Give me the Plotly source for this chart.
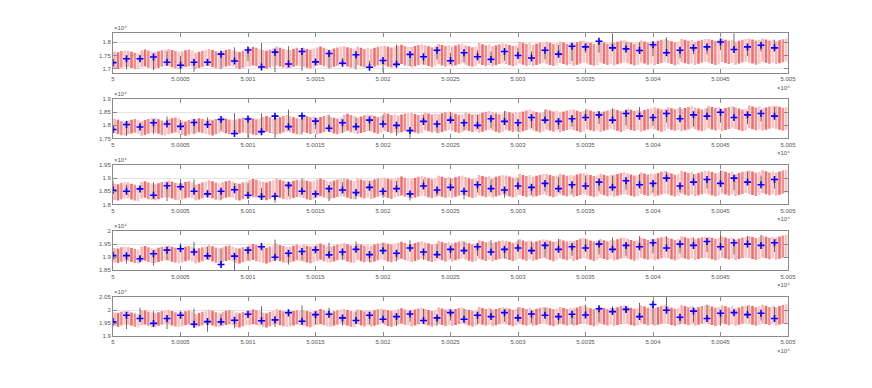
import plotly.graph_objects as go

# ---------------- data ----------------
blue_x = list(range(50000, 50050))
bar_x = [50000 + u + f for u in range(50) for f in (0.12, 0.37, 0.62, 0.87)]

x_tick_vals = [50000, 50005, 50010, 50015, 50020, 50025, 50030, 50035, 50040, 50045, 50050]
x_tick_text = ["5", "5.0005", "5.001", "5.0015", "5.002", "5.0025", "5.003", "5.0035", "5.004", "5.0045", "5.005"]

# panel 1
lo1 = [17000,16980,17030,17060, 17060,17020,16980,16960, 17050,17080,17030,17000, 16990,17030,17070,17100, 17090,17050,17010,16990,
       17020,17060,17090,17050, 16980,17020,17060,17100, 17100,17060,17010,16990, 17040,17080,17110,17070, 17010,16980,17030,17070,
       17080,17120,17090,17050, 17020,16990,17040,17080, 17120,17080,17040,17010, 17030,17070,17110,17080, 17070,17030,17000,17040,
       17100,17140,17090,17050, 17030,17070,17110,17140, 17120,17080,17040,17020, 17130,17090,17050,17090, 17040,17080,17120,17150,
       17110,17070,17040,17080, 17130,17170,17120,17090, 17050,17090,17130,17160, 17140,17100,17060,17100, 17160,17120,17080,17120,
       17080,17120,17160,17190, 17150,17110,17070,17100, 17180,17140,17100,17140, 17090,17130,17170,17200, 17170,17130,17090,17120,
       17190,17150,17110,17150, 17100,17140,17180,17210, 17180,17140,17100,17130, 17210,17170,17130,17170, 17110,17150,17190,17220,
       17190,17150,17110,17140, 17220,17180,17140,17180, 17120,17160,17200,17230, 17200,17160,17120,17150, 17230,17190,17150,17190,
       17130,17170,17210,17240, 17210,17170,17130,17160, 17240,17200,17160,17200, 17140,17180,17220,17250, 17220,17180,17140,17170,
       17250,17210,17170,17210, 17150,17190,17230,17260, 17230,17190,17150,17180, 17260,17220,17180,17220, 17160,17200,17240,17270]
span1 = [640,620,650,630,660,640,620,650,630,650, 700,690,710,680,720,700,690,730,700,710,
         760,740,770,750,780,760,740,790,760,770, 830,810,840,820,850,830,810,860,830,840,
         890,870,900,880,910,890,870,920,890,880]
blue1 = [17225,17375,17375,17440,17240,17125,17240,17240,17550,17290,17710,17060,17625,17175,17650,17255,17575,17200,17525,17050,
         17310,17160,17540,17450,17700,17300,17600,17450,17350,17650,17500,17400,17700,17550,17850,17825,18040,17790,17750,17690,
         17910,17600,17700,17790,17825,18010,17725,17825,17890,17790]
tip1 = [17225,16975,17300,16940,17660,17475,16875,17150,16975,17810,17290,17975,16850,17850,16910,17150,17000,17400,16965,17300,
        16850,17910,17100,17150,17350,17600,17250,17700,17650,17300,17800,17650,17350,17900,17290,17600,17600,18350,18000,18000,
        17475,18190,17390,17550,17550,17700,18350,17480,17650,18100]

# panel 2
lo2 = [17710,17670,17620,17600, 17650,17690,17720,17680, 17600,17640,17680,17720, 17720,17680,17630,17610, 17660,17700,17730,17690,
       17630,17600,17650,17690, 17700,17740,17710,17670, 17640,17610,17660,17700, 17740,17700,17660,17630, 17650,17690,17730,17700,
       17690,17650,17620,17660, 17720,17760,17710,17670, 17650,17690,17730,17760, 17740,17700,17660,17640, 17750,17710,17670,17710,
       17660,17700,17740,17770, 17730,17690,17660,17700, 17750,17790,17740,17710, 17670,17710,17750,17780, 17760,17720,17680,17720,
       17790,17750,17700,17740, 17700,17740,17780,17810, 17770,17730,17690,17720, 17810,17770,17730,17770, 17710,17750,17790,17820,
       17790,17750,17710,17740, 17820,17780,17740,17780, 17720,17760,17800,17830, 17800,17760,17720,17750, 17830,17790,17750,17790,
       17730,17770,17810,17840, 17810,17770,17730,17760, 17840,17800,17760,17800, 17740,17780,17820,17850, 17820,17780,17740,17770,
       17850,17810,17770,17810, 17750,17790,17830,17860, 17830,17790,17750,17780, 17860,17820,17780,17820, 17760,17800,17840,17870,
       17840,17800,17760,17790, 17870,17830,17790,17830, 17770,17810,17850,17880, 17850,17810,17770,17800, 17880,17840,17800,17840,
       17780,17820,17860,17890, 17860,17820,17780,17810, 17890,17850,17810,17850, 17790,17830,17870,17900, 17870,17830,17790,17820]
span2 = [540,520,560,550,570,550,530,580,560,570, 610,600,630,610,640,620,600,650,630,640,
         690,670,700,680,710,690,670,720,700,710, 760,740,770,750,780,760,740,790,770,780,
         840,820,850,830,860,840,820,870,850,880]
blue2 = [17840,18030,17935,18100,18050,17960,18110,18030,18220,17690,18240,17760,18350,17950,18360,18160,17890,18100,17950,18200,
         18050,18000,17800,18150,18050,18200,18100,18000,18250,18150,18100,18300,18200,18150,18250,18300,18400,18200,18450,18350,
         18300,18450,18250,18400,18350,18500,18300,18400,18450,18350]
tip2 = [17840,17600,18100,17660,18340,18200,17660,18300,17800,18460,17500,18460,17500,18600,17660,17860,18400,17700,18300,17800,
        18400,17600,17500,18400,17700,18500,17800,18400,17900,18550,17750,17900,18600,17850,17950,18600,18050,18650,18000,18700,
        18000,18100,18700,17950,18650,18100,18700,18050,18150,18700]

# panel 3
lo3 = [18170,18150,18200,18230, 18230,18190,18150,18130, 18220,18250,18200,18170, 18160,18200,18240,18270, 18260,18220,18180,18160,
       18190,18230,18260,18220, 18150,18190,18230,18270, 18270,18230,18180,18160, 18210,18250,18280,18240, 18180,18150,18200,18240,
       18250,18290,18260,18220, 18190,18160,18210,18250, 18290,18250,18210,18180, 18200,18240,18280,18250, 18240,18200,18170,18210,
       18270,18310,18260,18220, 18200,18240,18280,18310, 18290,18250,18210,18190, 18300,18260,18220,18260, 18210,18250,18290,18320,
       18280,18240,18210,18250, 18300,18340,18290,18260, 18220,18260,18300,18330, 18310,18270,18230,18270, 18330,18290,18250,18290,
       18250,18290,18330,18360, 18320,18280,18240,18270, 18350,18310,18270,18310, 18260,18300,18340,18370, 18340,18300,18260,18290,
       18360,18320,18280,18320, 18270,18310,18350,18380, 18350,18310,18270,18300, 18380,18340,18300,18340, 18280,18320,18360,18390,
       18360,18320,18280,18310, 18390,18350,18310,18350, 18290,18330,18370,18400, 18370,18330,18290,18320, 18400,18360,18320,18360,
       18300,18340,18380,18410, 18380,18340,18300,18330, 18410,18370,18330,18370, 18310,18350,18390,18420, 18390,18350,18310,18340,
       18420,18380,18340,18380, 18320,18360,18400,18430, 18400,18360,18320,18350, 18430,18390,18350,18390, 18330,18370,18410,18440]
span3 = [620,600,630,610,640,620,600,650,630,640, 680,670,690,660,700,680,670,710,690,700,
         740,720,750,730,760,740,720,770,750,760, 800,780,810,790,820,800,780,830,810,820,
         860,840,870,850,880,860,840,890,870,880]
blue3 = [18540,18500,18590,18350,18710,18675,18500,18400,18500,18560,18350,18300,18310,18725,18500,18400,18600,18550,18450,18650,
         18500,18600,18400,18700,18550,18650,18500,18750,18600,18550,18700,18650,18800,18600,18750,18700,18850,18650,18900,18750,
         18800,19000,18700,18850,18950,18800,19000,18850,18750,18950]
tip3 = [18875,18750,18650,18840,18125,18960,18950,18550,18160,18810,18810,18625,18060,18310,19000,18500,18125,18850,18200,18900,
        18250,18900,18150,18950,18300,19000,18200,18450,18950,18250,19000,18350,18500,19050,18400,19100,18500,19100,18550,19150,
        18450,19250,18450,19150,18600,19300,18550,19250,19100,18600]

# panel 4
lo4 = [18800,18780,18830,18860, 18860,18820,18780,18760, 18840,18870,18820,18790, 18780,18820,18860,18890, 18870,18830,18790,18770,
       18810,18850,18880,18840, 18770,18810,18850,18890, 18880,18840,18790,18770, 18820,18860,18890,18850, 18790,18760,18810,18850,
       18850,18890,18860,18820, 18790,18760,18810,18850, 18890,18850,18810,18780, 18800,18840,18880,18850, 18840,18800,18770,18810,
       18860,18900,18850,18810, 18800,18840,18880,18910, 18880,18840,18800,18780, 18890,18850,18810,18850, 18800,18840,18880,18910,
       18880,18840,18810,18850, 18900,18940,18890,18860, 18820,18860,18900,18930, 18900,18860,18820,18860, 18920,18880,18840,18880,
       18840,18880,18920,18950, 18910,18870,18830,18860, 18940,18900,18860,18900, 18850,18890,18930,18960, 18930,18890,18850,18880,
       18950,18910,18870,18910, 18860,18900,18940,18970, 18930,18890,18850,18880, 18960,18920,18880,18920, 18860,18900,18940,18970,
       18940,18900,18860,18890, 18970,18930,18890,18930, 18870,18910,18950,18980, 18950,18910,18870,18900, 18980,18940,18900,18940,
       18880,18920,18960,18990, 18960,18920,18880,18910, 18990,18950,18910,18950, 18890,18930,18970,19000, 18960,18920,18880,18910,
       18990,18950,18910,18950, 18890,18930,18970,19000, 18970,18930,18890,18920, 19000,18960,18920,18960, 18900,18940,18980,19010]
span4 = [550,530,560,540,570,550,530,580,560,570, 610,600,620,600,640,620,600,650,630,640,
         670,650,680,660,700,680,660,710,690,700, 730,710,740,720,760,740,720,770,750,760,
         800,780,810,790,820,800,780,840,820,850]
blue4 = [19060,19060,18940,19130,19270,19320,19200,19050,18720,19040,19270,19400,19000,19150,19220,19280,19090,19200,19300,19100,
         19250,19150,19350,19200,19100,19300,19250,19400,19200,19300,19350,19250,19450,19300,19400,19350,19500,19300,19450,19400,
         19550,19350,19500,19450,19600,19400,19550,19500,19450,19550]
tip4 = [19250,18760,19050,18680,18880,19530,19590,19400,19330,18460,18880,19550,19670,18720,18880,19400,19550,18900,19600,18800,
        19550,18850,19650,18900,19500,18950,19600,19050,19650,18950,19650,19600,19000,19700,19050,19700,19100,19750,19050,19800,
        19150,19800,19150,19750,19200,19850,19100,19800,19850,19200]

# panel 5
lo5 = [19380,19360,19410,19440, 19440,19400,19360,19340, 19420,19450,19400,19370, 19360,19400,19440,19470, 19450,19410,19370,19350,
       19380,19420,19450,19410, 19340,19380,19420,19460, 19450,19410,19360,19340, 19390,19430,19460,19420, 19360,19330,19380,19420,
       19420,19460,19430,19390, 19360,19330,19380,19420, 19460,19420,19380,19350, 19370,19410,19450,19420, 19410,19370,19340,19380,
       19430,19470,19420,19380, 19360,19400,19440,19470, 19440,19400,19360,19340, 19450,19410,19370,19410, 19360,19400,19440,19470,
       19430,19390,19360,19400, 19450,19490,19440,19410, 19370,19410,19450,19480, 19450,19410,19370,19410, 19470,19430,19390,19430,
       19390,19430,19470,19500, 19450,19410,19370,19400, 19480,19440,19400,19440, 19380,19420,19460,19490, 19460,19420,19380,19410,
       19480,19440,19400,19440, 19390,19430,19470,19500, 19460,19420,19380,19410, 19490,19450,19410,19450, 19390,19430,19470,19500,
       19460,19420,19380,19410, 19490,19450,19410,19450, 19390,19430,19470,19500, 19470,19430,19390,19420, 19500,19460,19420,19460,
       19400,19440,19480,19510, 19470,19430,19390,19420, 19500,19460,19420,19460, 19400,19440,19480,19510, 19470,19430,19390,19420,
       19500,19460,19420,19460, 19400,19440,19480,19510, 19480,19440,19400,19430, 19510,19470,19430,19470, 19410,19450,19490,19520]
span5 = [525,510,540,520,550,530,510,560,540,550, 560,550,570,550,590,570,550,600,580,590,
         600,580,610,590,630,610,590,640,620,630, 640,620,650,630,670,650,630,680,660,670,
         680,660,690,670,700,680,660,710,690,700]
blue5 = [19550,19800,19675,19490,19675,19800,19460,19560,19550,19610,19840,19590,19625,19900,19575,19825,19840,19700,19600,19800,
         19650,19750,19850,19600,19700,19900,19650,19800,19750,19900,19700,19850,19800,19750,19840,19810,20050,19940,20025,19750,
         20210,19990,19725,19960,19675,19875,19900,19825,19875,19675]
tip5 = [19700,19275,20090,19960,19275,19950,20050,19175,19840,19300,19700,20150,19350,19750,20175,19450,20090,19400,19950,19450,
        20000,19400,19550,20050,19400,19600,20050,19450,20050,19550,20100,19500,20100,19450,19460,20200,19525,20150,19900,20275,
        19460,20500,19460,19525,20210,19400,20000,20150,19600,20125]

y_ranges = [[16850, 18350], [17500, 19000], [18000, 19500], [18500, 20000], [19000, 20500]]
y_tick_vals = [[17000, 17500, 18000], [17500, 18000, 18500, 19000], [18000, 18500, 19000, 19500],
               [18500, 19000, 19500, 20000], [19000, 19500, 20000, 20500]]
y_tick_text = [["1.7", "1.75", "1.8"], ["1.75", "1.8", "1.85", "1.9"], ["1.8", "1.85", "1.9", "1.95"],
               ["1.85", "1.9", "1.95", "2"], ["1.9", "1.95", "2", "2.05"]]

panels = [(lo1, span1, blue1, tip1), (lo2, span2, blue2, tip2), (lo3, span3, blue3, tip3),
          (lo4, span4, blue4, tip4), (lo5, span5, blue5, tip5)]

# ---------------- style / geometry ----------------
# the page body has an 8px margin, so the figure is placed at (8, 8)
OFF = 8
W, H = 872 - OFF, 388 - OFF
PL, PR = 113 - OFF, 788 - OFF
tops = [30.5 - OFF, 97.5 - OFF, 164.5 - OFF, 231.5 - OFF, 298.5 - OFF]
PH = 40
bar_palette = ['#f8b0b0', '#f26a6a', '#f58c8c', '#fbc6c6']
bar_colors = [bar_palette[i % 4] for i in range(len(bar_x))]
axis_col = '#8a8a8a'
txt_col = '#555555'
FONT = 'Liberation Sans, Arial, sans-serif'

fig = go.Figure()
annotations = []
for i, (lo, span, blue, tip) in enumerate(panels):
    n = i + 1
    xa = 'x' if n == 1 else f'x{n}'
    ya = 'y' if n == 1 else f'y{n}'
    heights = [s for s in span for _ in range(4)]
    fig.add_trace(go.Bar(x=bar_x, base=lo, y=heights, width=0.19,
                         marker=dict(color=bar_colors, line=dict(width=0)),
                         xaxis=xa, yaxis=ya, hoverinfo='skip'))
    sx, sy = [], []
    for xv, b, t in zip(blue_x, blue, tip):
        sx += [xv, xv, None]
        sy += [b, t, None]
    fig.add_trace(go.Scatter(x=sx, y=sy, mode='lines', line=dict(color='rgba(70,70,70,0.8)', width=1),
                             xaxis=xa, yaxis=ya, hoverinfo='skip'))
    fig.add_trace(go.Scatter(x=blue_x, y=blue, mode='markers',
                             marker=dict(symbol='cross-thin', size=5, line=dict(width=1.6, color='#0000ff')),
                             xaxis=xa, yaxis=ya))
    top, bot = tops[i], tops[i] + PH
    d = [1 - bot / H, 1 - top / H]
    axcommon = dict(showline=True, linecolor=axis_col, linewidth=1, mirror='ticks', ticks='inside',
                    ticklen=4, tickcolor=axis_col, tickfont=dict(family=FONT, size=6, color=txt_col),
                    zeroline=False)
    fig.layout[('xaxis' if n == 1 else f'xaxis{n}')] = dict(
        domain=[0, 1], anchor=ya, range=[50000, 50050], tickvals=x_tick_vals, ticktext=x_tick_text,
        showgrid=False, **axcommon)
    fig.layout[('yaxis' if n == 1 else f'yaxis{n}')] = dict(
        domain=d, anchor=xa, range=y_ranges[i], tickvals=y_tick_vals[i], ticktext=y_tick_text[i],
        showgrid=True, gridcolor='#e4e4e4', gridwidth=1, **axcommon)
    annotations.append(dict(text='\u00d710\u2074', xref='paper', yref='paper', x=0, y=d[1],
                            xanchor='left', yanchor='bottom', showarrow=False, xshift=-1,
                            font=dict(family=FONT, size=6, color=txt_col)))
    annotations.append(dict(text='\u00d710\u2074', xref='paper', yref='paper', x=1, y=d[0],
                            xanchor='right', yanchor='top', showarrow=False, xshift=4, yshift=-10,
                            font=dict(family=FONT, size=6, color=txt_col)))

fig.update_layout(width=W, height=H, margin=dict(l=PL, r=W - PR, t=0, b=0),
                  paper_bgcolor='white', plot_bgcolor='white', showlegend=False,
                  barmode='overlay', annotations=annotations)
fig.write_html("out.html")
